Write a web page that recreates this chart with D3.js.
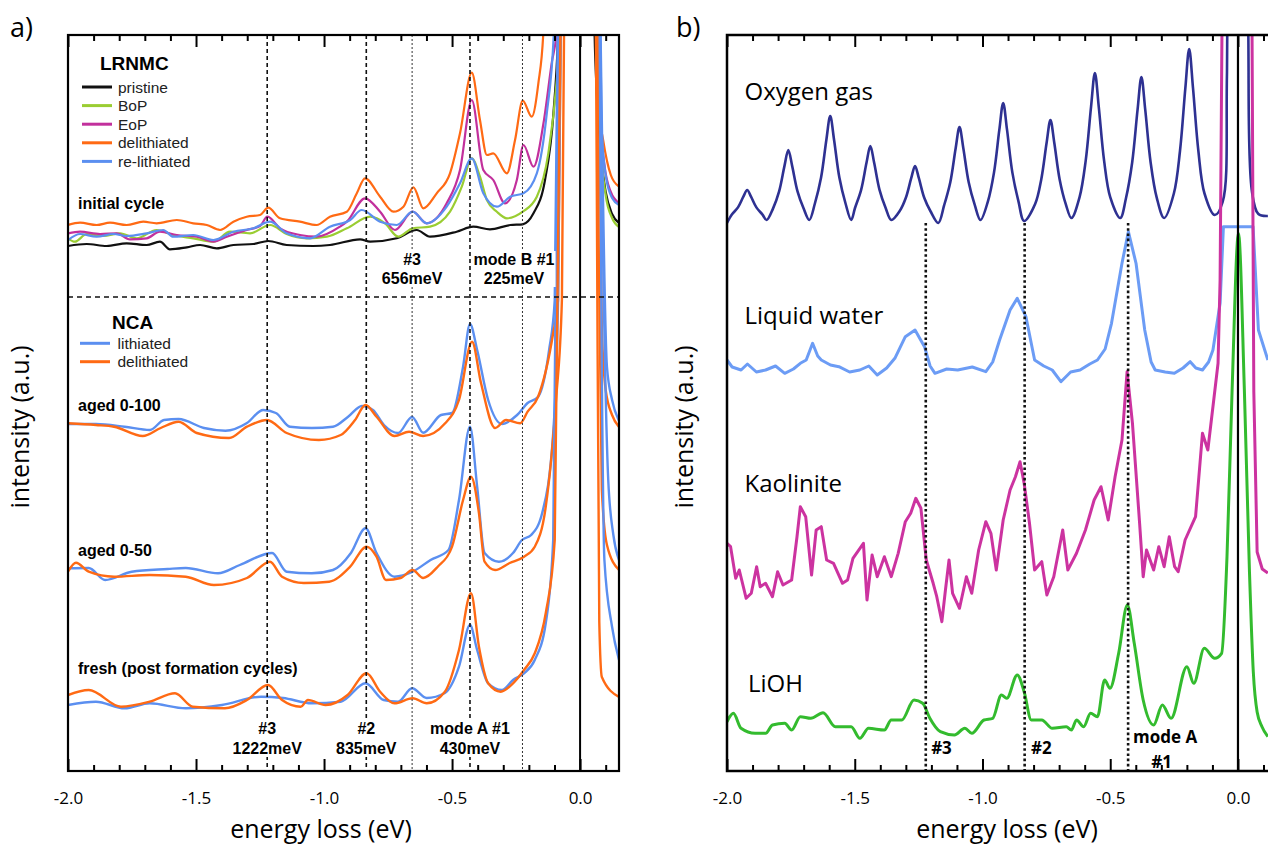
<!DOCTYPE html>
<html><head><meta charset="utf-8">
<script src="https://cdn.jsdelivr.net/npm/d3@7"></script>
<style>body{margin:0;background:#fff}svg{display:block}</style>
</head><body><svg id="c" width="1268" height="845"></svg>
<script>
// ---------- DATA (energy loss in eV, intensity in a.u.) ----------
const majorTicks=[-2.0,-1.5,-1.0,-0.5,0.0];
const minorTicks=[-1.9,-1.8,-1.7,-1.6,-1.4,-1.3,-1.2,-1.1,-0.9,-0.8,-0.7,-0.6,-0.4,-0.3,-0.2,-0.1,0.1];
const modeLinesA=[-1.222,-0.835,-0.43];
const fineLinesA=[-0.656,-0.225];
const modeLinesB=[-1.222,-0.835,-0.43];

// panel a, LRNMC initial cycle
const pristine=[[-2.0,52.6],[-1.927,52.8],[-1.849,52.6],[-1.771,52.87],[-1.693,52.7],[-1.641,53.03],[-1.602,52.27],[-1.536,52.47],[-1.484,52.7],[-1.419,52.37],[-1.354,52.7],[-1.276,52.8],[-1.218,53.1],[-1.146,52.7],[-1.042,52.6],[-0.977,52.7],[-0.859,53.27],[-0.82,53.03],[-0.716,53.37],[-0.638,54.2],[-0.586,53.53],[-0.482,54.03],[-0.417,54.53],[-0.352,54.27],[-0.273,54.7],[-0.224,54.77],[-0.182,55.87],[-0.137,59.2],[-0.104,65.87],[-0.085,74.2],[-0.05,120],[0,200],[0.045,120],[0.055,76],[0.065,68],[0.08,62],[0.1,58],[0.125,55.8],[0.152,54.9]];
const bop=[[-2.0,53.37],[-1.973,53.03],[-1.927,53.8],[-1.862,53.6],[-1.797,53.87],[-1.732,53.37],[-1.654,54.2],[-1.589,53.7],[-1.511,53.37],[-1.432,53.03],[-1.367,54.03],[-1.289,53.87],[-1.211,54.7],[-1.146,53.8],[-1.068,53.37],[-0.989,53.53],[-0.911,54.37],[-0.82,55.53],[-0.762,54.87],[-0.71,53.53],[-0.654,54.37],[-0.586,54.53],[-0.508,56.03],[-0.462,58.53],[-0.423,61.37],[-0.391,59.53],[-0.364,57.2],[-0.325,56.03],[-0.286,55.37],[-0.224,56.03],[-0.169,57.53],[-0.124,61.87],[-0.091,69.2],[-0.078,74.2],[-0.05,120],[0,200],[0.055,120],[0.068,76],[0.08,63],[0.1,57.7],[0.125,55.4],[0.152,54.5]];
const eop=[[-2.0,53.87],[-1.953,54.03],[-1.875,53.8],[-1.81,53.87],[-1.758,53.27],[-1.693,53.37],[-1.641,54.03],[-1.575,53.7],[-1.497,53.53],[-1.432,53.03],[-1.38,53.53],[-1.302,54.2],[-1.25,54.6],[-1.221,55.53],[-1.172,54.37],[-1.094,53.7],[-1.029,53.53],[-0.938,54.53],[-0.911,55.03],[-0.84,57.37],[-0.781,56.03],[-0.723,54.2],[-0.654,56.03],[-0.599,54.87],[-0.521,56.87],[-0.469,60.2],[-0.423,67.2],[-0.378,60.2],[-0.339,59.2],[-0.293,56.87],[-0.247,59.2],[-0.221,62.7],[-0.182,60.53],[-0.143,64.87],[-0.111,70.87],[-0.091,74.2],[-0.06,120],[0,200],[0.05,120],[0.065,78],[0.08,65],[0.095,60.7],[0.12,58],[0.152,56.9]];
const delith=[[-2.0,54.7],[-1.953,54.93],[-1.888,54.7],[-1.836,54.93],[-1.771,54.7],[-1.706,55.03],[-1.654,54.87],[-1.575,55.2],[-1.511,54.87],[-1.458,54.7],[-1.406,54.2],[-1.354,55.03],[-1.302,55.53],[-1.25,55.7],[-1.218,56.43],[-1.172,55.37],[-1.094,55.03],[-1.029,54.7],[-0.977,55.53],[-0.911,56.03],[-0.872,57.87],[-0.84,59.37],[-0.781,57.53],[-0.729,56.03],[-0.69,56.53],[-0.651,58.47],[-0.612,56.37],[-0.56,57.87],[-0.508,59.87],[-0.469,63.87],[-0.423,69.93],[-0.391,65.2],[-0.364,61.7],[-0.339,61.87],[-0.286,59.87],[-0.254,63.2],[-0.224,67.13],[-0.189,65.53],[-0.163,68.87],[-0.143,74.2],[-0.11,120],[0,200],[0.045,120],[0.06,76],[0.075,66],[0.09,63.2],[0.12,59.7],[0.152,58.53]];
const relith=[[-2.0,53.2],[-1.953,53.8],[-1.888,53.53],[-1.823,53.8],[-1.771,53.6],[-1.693,53.87],[-1.628,54.2],[-1.589,53.53],[-1.511,53.7],[-1.432,53.2],[-1.354,54.03],[-1.276,54.37],[-1.211,55.03],[-1.146,53.87],[-1.055,53.37],[-0.977,54.53],[-0.898,55.2],[-0.853,56.2],[-0.781,55.03],[-0.716,54.7],[-0.654,56.03],[-0.599,54.87],[-0.521,56.53],[-0.469,58.87],[-0.423,61.37],[-0.378,57.87],[-0.325,56.53],[-0.273,57.53],[-0.221,57.87],[-0.169,59.87],[-0.13,65.87],[-0.102,74.2],[-0.06,120],[0,200],[0.05,120],[0.07,76],[0.085,64],[0.1,59.7],[0.125,57.4],[0.152,56.7]];

// panel a, NCA
const aged100Li=[[-2.0,34.8],[-1.891,34.8],[-1.779,34.53],[-1.68,34.2],[-1.625,35.2],[-1.568,35.3],[-1.469,34.4],[-1.385,34.13],[-1.301,34.9],[-1.238,36.2],[-1.188,35.9],[-1.133,34.53],[-1.047,34.4],[-0.965,34.53],[-0.906,35.53],[-0.852,36.6],[-0.809,36.2],[-0.766,34.7],[-0.711,33.9],[-0.656,35.5],[-0.613,33.93],[-0.543,35.7],[-0.5,35.9],[-0.457,40.53],[-0.43,44.8],[-0.402,42.2],[-0.359,37.2],[-0.305,34.8],[-0.246,35.7],[-0.205,36.9],[-0.164,37.53],[-0.121,42.2],[-0.099,47.2],[-0.07,120],[0,200],[0.06,120],[0.08,74],[0.105,40.5],[0.125,37.2],[0.152,35.1]];
const aged100De=[[-2.0,34.87],[-1.891,34.7],[-1.82,34.53],[-1.708,33.6],[-1.638,34.4],[-1.568,35.03],[-1.497,33.9],[-1.371,33.4],[-1.301,34.53],[-1.223,35.2],[-1.146,33.9],[-1.02,33.2],[-0.935,33.7],[-0.879,35.2],[-0.838,36.7],[-0.795,35.53],[-0.725,33.6],[-0.668,34.03],[-0.613,33.6],[-0.527,34.87],[-0.473,37.2],[-0.422,43.03],[-0.387,38.9],[-0.332,34.4],[-0.289,35.2],[-0.234,34.87],[-0.205,36.03],[-0.164,37.53],[-0.105,43.9],[-0.086,47.2],[-0.06,120],[0,200],[0.05,120],[0.07,80],[0.085,44.2],[0.1,38.2],[0.125,35.7],[0.152,34.5]];
const aged50Li=[[-2.0,20.37],[-1.919,20.4],[-1.855,19.2],[-1.751,20.03],[-1.611,20.3],[-1.54,20.4],[-1.414,19.87],[-1.329,20.7],[-1.203,21.9],[-1.146,20.03],[-1.048,19.87],[-0.965,20.2],[-0.895,21.9],[-0.838,24.37],[-0.795,21.9],[-0.725,19.53],[-0.654,20.03],[-0.584,21.2],[-0.514,22.2],[-0.473,27.2],[-0.43,34.53],[-0.402,28.53],[-0.373,21.9],[-0.317,21.03],[-0.262,21.9],[-0.227,23.2],[-0.191,23.7],[-0.148,25.9],[-0.105,33.9],[-0.086,47.2],[-0.06,120],[0,200],[0.06,120],[0.085,60],[0.11,29.2],[0.13,23.7],[0.152,21.2]];
const aged50De=[[-2.0,20.03],[-1.969,20.93],[-1.919,20.03],[-1.82,19.53],[-1.681,19.7],[-1.54,19.53],[-1.43,18.7],[-1.301,19.4],[-1.211,21.03],[-1.164,19.53],[-1.079,18.9],[-0.98,19.03],[-0.898,20.53],[-0.834,22.53],[-0.795,21.53],[-0.758,19.2],[-0.701,19.4],[-0.654,20.2],[-0.613,19.4],[-0.556,20.53],[-0.5,22.53],[-0.457,27.2],[-0.426,29.53],[-0.395,25.9],[-0.373,21.03],[-0.332,20.2],[-0.275,20.9],[-0.219,21.53],[-0.177,22.53],[-0.134,26.53],[-0.094,37.2],[-0.071,47.2],[-0.05,120],[0,200],[0.05,120],[0.07,60],[0.085,28.2],[0.105,22.7],[0.152,20.2]];
const freshLi=[[-2.0,6.7],[-1.891,7.03],[-1.779,6.37],[-1.681,6.87],[-1.54,6.37],[-1.399,6.7],[-1.246,7.53],[-1.16,7.4],[-1.048,6.87],[-0.935,7.03],[-0.838,8.87],[-0.767,7.2],[-0.711,7.03],[-0.656,8.37],[-0.599,7.4],[-0.528,7.9],[-0.473,10.53],[-0.43,14.7],[-0.402,12.2],[-0.359,8.87],[-0.305,8.2],[-0.262,9.2],[-0.219,9.87],[-0.177,11.2],[-0.134,14.9],[-0.105,23.2],[-0.07,120],[0,200],[0.06,120],[0.075,80],[0.085,40],[0.095,21.2],[0.125,14.5],[0.152,11.2]];
const freshDe=[[-2.0,7.7],[-1.919,8.2],[-1.793,6.53],[-1.681,7.03],[-1.582,7.87],[-1.513,6.53],[-1.387,6.37],[-1.301,7.2],[-1.219,8.7],[-1.164,7.2],[-1.091,6.53],[-1.063,7.2],[-0.994,6.7],[-0.908,7.7],[-0.834,9.87],[-0.781,8.03],[-0.725,6.87],[-0.654,7.37],[-0.599,6.87],[-0.528,8.03],[-0.473,12.2],[-0.426,17.87],[-0.395,12.53],[-0.359,8.87],[-0.31,8.03],[-0.262,8.87],[-0.219,10.2],[-0.177,11.87],[-0.134,15.9],[-0.099,23.2],[-0.06,120],[0,200],[0.05,120],[0.065,60],[0.075,15],[0.085,9.5],[0.152,7.5]];

// panel b
const oxygen=[[-2.0,54.9],[-1.981,55.74],[-1.957,56.46],[-1.936,57.53],[-1.921,58.2],[-1.906,57.53],[-1.885,56.46],[-1.861,55.74],[-1.845,55.2],
[-1.82,56.34],[-1.796,58.06],[-1.775,60.61],[-1.76,62.2],[-1.745,60.61],[-1.724,58.06],[-1.70,56.34],[-1.678,55.2],
[-1.656,56.85],[-1.632,59.42],[-1.611,63.23],[-1.596,65.6],[-1.581,63.23],[-1.56,59.42],[-1.536,56.85],[-1.514,55.2],
[-1.499,56.4],[-1.475,58.22],[-1.454,60.92],[-1.439,62.6],[-1.424,60.92],[-1.403,58.22],[-1.379,56.4],[-1.357,55.2],
[-1.324,56.1],[-1.30,57.42],[-1.279,59.38],[-1.264,60.6],[-1.249,59.38],[-1.228,57.42],[-1.204,56.1],[-1.173,54.9],
[-1.15,56.68],[-1.126,58.98],[-1.105,62.38],[-1.09,64.5],[-1.075,62.38],[-1.054,58.98],[-1.03,56.68],[-1.008,55.2],
[-0.979,57.04],[-0.955,59.94],[-0.934,64.23],[-0.919,66.9],[-0.904,64.23],[-0.883,59.94],[-0.859,57.04],[-0.837,55.1],
[-0.794,56.79],[-0.77,59.26],[-0.749,62.92],[-0.734,65.2],[-0.719,62.92],[-0.698,59.26],[-0.674,56.79],[-0.652,55.4],
[-0.62,57.49],[-0.596,61.14],[-0.575,66.54],[-0.56,69.9],[-0.545,66.54],[-0.524,61.14],[-0.50,57.49],[-0.461,55.4],
[-0.438,57.43],[-0.414,60.98],[-0.393,66.23],[-0.378,69.5],[-0.363,66.23],[-0.342,60.98],[-0.318,57.43],[-0.289,55.4],
[-0.251,57.85],[-0.227,62.1],[-0.206,68.39],[-0.191,72.3],[-0.176,68.39],[-0.155,62.1],[-0.131,57.85],[-0.091,55.7],
[-0.06,57],[-0.043,70],[-0.03,120],[0,200],[0.03,120],[0.04,75],[0.055,58],[0.08,55.8],[0.117,55.6]];
const water=[[-2.0,41.2],[-1.98,40.5],[-1.945,40.2],[-1.92,40.8],[-1.885,40.0],[-1.849,40.2],[-1.81,40.6],[-1.774,39.87],[-1.74,40.3],[-1.713,40.87],[-1.69,41.2],[-1.665,42.87],[-1.645,41.6],[-1.631,41.2],[-1.595,40.7],[-1.562,40.53],[-1.52,40.0],[-1.48,40.2],[-1.445,40.6],[-1.412,39.7],[-1.375,40.4],[-1.343,41.37],[-1.302,43.53],[-1.264,44.2],[-1.227,42.53],[-1.205,40.6],[-1.186,39.87],[-1.14,40.3],[-1.097,40.2],[-1.04,40.5],[-0.987,40.03],[-0.96,41.0],[-0.933,43.2],[-0.892,46.2],[-0.864,47.37],[-0.83,45.53],[-0.796,41.2],[-0.76,40.6],[-0.727,40.2],[-0.693,39.03],[-0.655,40.0],[-0.618,40.2],[-0.58,40.8],[-0.55,41.2],[-0.52,42.3],[-0.495,44.87],[-0.454,50.87],[-0.429,54.03],[-0.399,50.87],[-0.365,44.2],[-0.34,41.0],[-0.324,40.2],[-0.285,40.0],[-0.249,39.87],[-0.215,40.4],[-0.187,41.03],[-0.165,40.4],[-0.139,40.2],[-0.115,41.0],[-0.098,42.2],[-0.07,46.87],[-0.057,54.53],[0.059,54.53],[0.08,44.2],[0.117,41.2]];
const kaolinite=[[-2.0,22.87],[-1.986,22.53],[-1.966,19.37],[-1.952,20.2],[-1.925,17.37],[-1.905,17.87],[-1.884,20.53],[-1.87,18.53],[-1.849,18.87],[-1.822,17.53],[-1.802,20.03],[-1.781,18.7],[-1.747,19.2],[-1.726,23.53],[-1.713,26.53],[-1.692,25.53],[-1.669,19.7],[-1.651,24.2],[-1.631,24.53],[-1.61,21.2],[-1.583,20.87],[-1.548,18.87],[-1.528,19.2],[-1.507,21.37],[-1.466,22.87],[-1.452,17.2],[-1.432,21.7],[-1.412,19.53],[-1.384,21.53],[-1.357,19.53],[-1.33,21.87],[-1.302,25.03],[-1.281,25.87],[-1.261,27.37],[-1.241,26.37],[-1.22,21.2],[-1.193,18.87],[-1.179,17.53],[-1.159,15.03],[-1.145,18.2],[-1.131,21.2],[-1.117,17.87],[-1.09,16.37],[-1.063,19.53],[-1.042,17.87],[-1.015,22.2],[-0.987,25.03],[-0.967,23.87],[-0.946,20.2],[-0.919,25.2],[-0.892,28.2],[-0.871,29.53],[-0.853,31.03],[-0.837,28.87],[-0.816,24.87],[-0.796,20.2],[-0.768,21.03],[-0.748,17.7],[-0.721,19.53],[-0.686,24.2],[-0.666,20.2],[-0.632,21.87],[-0.597,24.2],[-0.563,27.2],[-0.536,28.53],[-0.508,25.2],[-0.481,29.53],[-0.454,33.2],[-0.434,40.03],[-0.413,34.87],[-0.385,24.87],[-0.371,19.53],[-0.358,22.2],[-0.33,20.2],[-0.31,22.53],[-0.289,20.53],[-0.269,23.53],[-0.248,20.53],[-0.234,20.03],[-0.207,23.2],[-0.166,25.53],[-0.139,33.87],[-0.118,32.2],[-0.098,36.53],[-0.078,40.87],[-0.07,49.2],[-0.055,100],[0,200],[0.05,100],[0.062,38],[0.075,22],[0.095,20.3],[0.117,19.9]];
const lioh=[[-2.0,5.03],[-1.975,5.87],[-1.945,4.37],[-1.89,3.87],[-1.849,3.87],[-1.822,4.7],[-1.774,4.87],[-1.747,4.2],[-1.713,5.53],[-1.672,5.37],[-1.624,5.93],[-1.576,4.53],[-1.514,4.53],[-1.48,3.37],[-1.446,4.37],[-1.384,4.2],[-1.357,5.2],[-1.316,5.2],[-1.268,7.2],[-1.234,6.87],[-1.206,5.37],[-1.165,4.03],[-1.11,3.7],[-1.069,4.37],[-1.042,3.87],[-0.994,5.2],[-0.96,5.37],[-0.926,7.7],[-0.905,7.37],[-0.864,9.7],[-0.837,8.03],[-0.809,5.2],[-0.768,5.2],[-0.727,4.37],[-0.672,4.53],[-0.652,4.2],[-0.632,5.2],[-0.604,4.53],[-0.577,5.87],[-0.55,5.53],[-0.522,9.2],[-0.501,8.37],[-0.467,11.87],[-0.433,16.7],[-0.406,12.87],[-0.371,7.2],[-0.33,4.7],[-0.296,6.7],[-0.262,5.37],[-0.2,10.53],[-0.173,8.87],[-0.132,12.37],[-0.091,11.37],[-0.064,11.87],[-0.043,21.53],[-0.023,38.2],[0.002,53.87],[0.025,38.2],[0.045,20],[0.06,10],[0.075,6],[0.094,4.53],[0.117,3.53]];

// labels
const legendLRNMC=[["pristine","#111111"],["BoP","#9ACD32"],["EoP","#C2309C"],["delithiated","#FF6A14"],["re-lithiated","#5B8FF0"]];
const legendNCA=[["lithiated","#5B8FF0"],["delithiated","#FF6A14"]];

// ---------- DRAWING ----------
const svg=d3.select('#c');
const TOP=35,BOT=771;
const y=d3.scaleLinear().domain([0,73.7]).range([772,35]);
const xA=d3.scaleLinear().domain([-2,0.152]).range([68,619]);
const xB=d3.scaleLinear().domain([-2,0.15]).range([727,1276.3]);
const defs=svg.append('defs');
defs.append('clipPath').attr('id','clipA').append('rect').attr('x',68).attr('y',TOP).attr('width',551).attr('height',BOT-TOP);
defs.append('clipPath').attr('id','clipB').append('rect').attr('x',727).attr('y',TOP).attr('width',560).attr('height',BOT-TOP);
const LAB="'Liberation Sans', Arial, sans-serif";
const OS="'Open Sans', sans-serif";

function curve(g,x,data,color,w,cv){
  g.append('path').datum(data)
   .attr('d',d3.line().x(d=>x(d[0])).y(d=>y(d[1])).curve(cv||d3.curveMonotoneX))
   .attr('fill','none').attr('stroke',color).attr('stroke-width',w)
   .attr('stroke-linejoin','round');
}
function ticks(x){
  const fmt=d=>d.toFixed(1);
  svg.append('g').attr('transform',`translate(0,${BOT})`)
    .call(d3.axisBottom(x).tickValues(majorTicks).tickSizeInner(-12).tickSizeOuter(0).tickPadding(21).tickFormat(fmt))
    .call(g=>{g.select('.domain').remove();g.selectAll('line').attr('stroke','#000').attr('stroke-width',2);
      g.selectAll('text').attr('font-family',OS).attr('font-size',17).attr('fill','#000');});
  svg.append('g').attr('transform',`translate(0,${BOT})`)
    .call(d3.axisBottom(x).tickValues(minorTicks).tickSizeInner(-6).tickSizeOuter(0).tickFormat(''))
    .call(g=>{g.select('.domain').remove();g.selectAll('line').attr('stroke','#000').attr('stroke-width',2);});
  svg.append('g').attr('transform',`translate(0,${TOP})`)
    .call(d3.axisTop(x).tickValues(majorTicks).tickSizeInner(-12).tickSizeOuter(0).tickFormat(''))
    .call(g=>{g.select('.domain').remove();g.selectAll('line').attr('stroke','#000').attr('stroke-width',2);});
  svg.append('g').attr('transform',`translate(0,${TOP})`)
    .call(d3.axisTop(x).tickValues(minorTicks).tickSizeInner(-6).tickSizeOuter(0).tickFormat(''))
    .call(g=>{g.select('.domain').remove();g.selectAll('line').attr('stroke','#000').attr('stroke-width',2);});
}
function txt(x,yy,s,size,weight,family,anchor){
  return svg.append('text').attr('x',x).attr('y',yy).text(s).attr('font-size',size)
    .attr('font-weight',weight||'normal').attr('font-family',family||LAB).attr('text-anchor',anchor||'start').attr('fill','#000');
}
function boxed(x,ys,lines,size){
  const g=svg.append('g');
  lines.forEach((s,i)=>g.append('text').attr('x',x).attr('y',ys[i]).text(s).attr('font-size',size)
     .attr('font-weight','bold').attr('font-family',LAB).attr('text-anchor','middle'));
  const bb=g.node().getBBox();
  g.insert('rect','text').attr('x',bb.x-1).attr('y',bb.y).attr('width',bb.width+2).attr('height',bb.height).attr('fill','#fff');
}

// ===== Panel a =====
const gA=svg.append('g').attr('clip-path','url(#clipA)');
curve(gA,xA,pristine,'#111111',2.2);
curve(gA,xA,bop,'#9ACD32',2.2);
curve(gA,xA,eop,'#C2309C',2.2);
curve(gA,xA,delith,'#FF6A14',2.2);
curve(gA,xA,relith,'#5B8FF0',2.2);
[[aged100Li,aged100De],[aged50Li,aged50De],[freshLi,freshDe]].forEach(([li,de])=>{
  curve(gA,xA,li,'#5B8FF0',2.4);
  curve(gA,xA,de,'#FF6A14',2.4);
});
modeLinesA.forEach(e=>svg.append('line').attr('x1',xA(e)).attr('x2',xA(e)).attr('y1',TOP).attr('y2',BOT)
  .attr('stroke','#111').attr('stroke-width',1.6).attr('stroke-dasharray','4,3'));
fineLinesA.forEach(e=>svg.append('line').attr('x1',xA(e)).attr('x2',xA(e)).attr('y1',TOP).attr('y2',BOT)
  .attr('stroke','#333').attr('stroke-width',1).attr('stroke-dasharray','2,2'));
svg.append('line').attr('x1',68).attr('x2',619).attr('y1',297).attr('y2',297)
  .attr('stroke','#111').attr('stroke-width',1.6).attr('stroke-dasharray','5,4');
svg.append('line').attr('x1',xA(0)).attr('x2',xA(0)).attr('y1',TOP).attr('y2',BOT).attr('stroke','#000').attr('stroke-width',2);
svg.append('rect').attr('x',68).attr('y',TOP).attr('width',551).attr('height',BOT-TOP).attr('fill','none').attr('stroke','#000').attr('stroke-width',2.2);
ticks(xA);

txt(100,70,'LRNMC',19,'bold');
legendLRNMC.forEach(([n,c],i)=>{
  const cy=87+i*18.6;
  svg.append('line').attr('x1',82).attr('x2',112).attr('y1',cy).attr('y2',cy).attr('stroke',c).attr('stroke-width',3);
  txt(118,cy+5.5,n,15.5,'normal').attr('fill','#222');
});
txt(78,209,'initial cycle',16,'bold');
txt(112,328.5,'NCA',19,'bold');
legendNCA.forEach(([n,c],i)=>{
  const cy=343.3+i*18.4;
  svg.append('line').attr('x1',80).attr('x2',110).attr('y1',cy).attr('y2',cy).attr('stroke',c).attr('stroke-width',3);
  txt(117.5,cy+5.5,n,15.5,'normal').attr('fill','#222');
});
txt(78,411,'aged 0-100',16,'bold');
txt(78,556,'aged 0-50',16,'bold');
txt(78,674,'fresh (post formation cycles)',16,'bold');
boxed(xA(-1.222),[734,754],['#3','1222meV'],16);
boxed(xA(-0.835),[734,754],['#2','835meV'],16);
boxed(xA(-0.43),[734,754],['mode A #1','430meV'],16);
boxed(xA(-0.656),[265,284],['#3','656meV'],16);
boxed(xA(-0.258),[265,284],['mode B #1','225meV'],16);

txt(321,838,'energy loss (eV)',25,'normal',OS,'middle');
svg.append('text').attr('transform','translate(29,427) rotate(-90)').attr('text-anchor','middle')
  .attr('font-family',OS).attr('font-size',25).text('intensity (a.u.)');
txt(10,37,'a)',27,'normal',OS);

// ===== Panel b =====
const gB=svg.append('g').attr('clip-path','url(#clipB)');
curve(gB,xB,oxygen,'#2E3192',2.6,d3.curveCatmullRom.alpha(0.5));
curve(gB,xB,water,'#6C9CF5',3,d3.curveLinear);
curve(gB,xB,kaolinite,'#CC33A0',3,d3.curveLinear);
curve(gB,xB,lioh,'#33BB2E',3);
modeLinesB.forEach(e=>svg.append('line').attr('x1',xB(e)).attr('x2',xB(e)).attr('y1',223).attr('y2',BOT)
  .attr('stroke','#111').attr('stroke-width',2.6).attr('stroke-dasharray','2.6,2.6'));
svg.append('line').attr('x1',xB(0)).attr('x2',xB(0)).attr('y1',TOP).attr('y2',BOT).attr('stroke','#000').attr('stroke-width',2.2);
svg.append('path').attr('d',`M1270,${TOP}H727V${BOT}H1270`).attr('fill','none').attr('stroke','#000').attr('stroke-width',2.5);
ticks(xB);
txt(744.5,100,'Oxygen gas',24,'normal',OS);
txt(744.5,324,'Liquid water',24,'normal',OS);
txt(744.5,491.7,'Kaolinite',24,'normal',OS);
txt(748,691.7,'LiOH',24,'normal',OS);
txt(xB(-1.201),754,'#3',17,'bold',OS);
txt(xB(-0.81),754,'#2',17,'bold',OS);
txt(xB(-0.411),743,'mode A',17,'bold',OS);
txt(xB(-0.339),767.5,'#1',17,'bold',OS);
txt(1007,838,'energy loss (eV)',25,'normal',OS,'middle');
svg.append('text').attr('transform','translate(693,427) rotate(-90)').attr('text-anchor','middle')
  .attr('font-family',OS).attr('font-size',25).text('intensity (a.u.)');
txt(676,37,'b)',27,'normal',OS);
</script></body></html>
